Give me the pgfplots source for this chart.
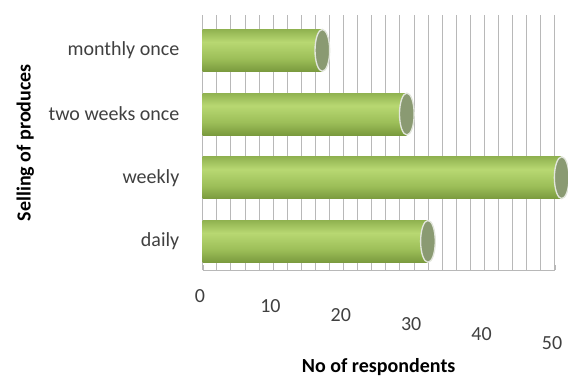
\documentclass[border=0pt]{standalone}
\usepackage{pgfplots}
\pgfplotsset{compat=1.18}
\usepackage{fontspec}
\setmainfont{Carlito}
\definecolor{bartop}{HTML}{90B250}
\definecolor{barmid}{HTML}{B8D872}
\definecolor{barbot}{HTML}{7A9A3E}
\definecolor{barlow}{HTML}{9CBE58}
\definecolor{capcol}{HTML}{8A9A72}
\definecolor{gridc}{HTML}{B8B8B8}
\definecolor{txt}{HTML}{404040}
\pgfdeclareverticalshading{cyl}{100bp}{color(0bp)=(barbot); color(25bp)=(barbot); color(40bp)=(barlow); color(60bp)=(barmid); color(75bp)=(bartop); color(100bp)=(bartop)}
\begin{document}
\begin{tikzpicture}[x=0.75pt,y=0.75pt]
\useasboundingbox (-152pt,-81pt) rectangle (274pt,202.5pt);
\begin{axis}[
  at={(0,0)}, anchor=south west,
  scale only axis,
  width=264pt, height=191pt,
  xmin=0, xmax=50,
  ymin=-0.45, ymax=3.55,
  clip=false,
  axis x line*=bottom,
  axis y line*=left,
  axis line style={draw=gridc},
  xtick={0,10,20,30,40,50},
  minor x tick num=4,
  xmajorgrids, xminorgrids,
  grid style={draw=gridc, line width=0.5pt},
  minor grid style={draw=gridc, line width=0.5pt},
  major tick length=4pt, minor tick length=0pt,
  tick style={draw=gridc},
  ytick={0,1,2,3},
  yticklabels={daily,weekly,two weeks once,monthly once},
  y tick style={draw=none},
  ticklabel style={font=\fontsize{15}{17}\selectfont, text=txt},
  xticklabel style={anchor=north, yshift=-21pt, xshift=-2pt},
  xticklabel={\pgfmathsetlengthmacro\dy{-7*\ticknum}\smash{\raisebox{\dy}{\pgfmathprintnumber{\tick}}}},
  /pgf/number format/assume math mode=true,
  xlabel={No of respondents},
  ylabel={Selling of produces},
  label style={font=\fontsize{15}{17}\selectfont\bfseries, text=black},
  xlabel style={at={(axis description cs:0.5,0)}, anchor=north, yshift=-63pt},
  ylabel style={at={(axis description cs:0,0.5)}, anchor=center, yshift=133pt},
  yticklabel style={anchor=east, xshift=-14pt},
]
\addplot[xbar, bar width=0.66, draw=none, shading=cyl, shade]
  coordinates {(32,0)};
\addplot[xbar, bar width=0.66, draw=none, shading=cyl, shade]
  coordinates {(51,1)};
\addplot[xbar, bar width=0.66, draw=none, shading=cyl, shade]
  coordinates {(29,2)};
\addplot[xbar, bar width=0.66, draw=none, shading=cyl, shade]
  coordinates {(17,3)};
\addplot[only marks, mark=*, mark size=15.7pt,
  mark options={fill=capcol, draw=white!75!capcol, line width=1pt, xscale=0.35}]
  coordinates {(32,0) (51,1) (29,2) (17,3)};
\end{axis}
\end{tikzpicture}
\end{document}
